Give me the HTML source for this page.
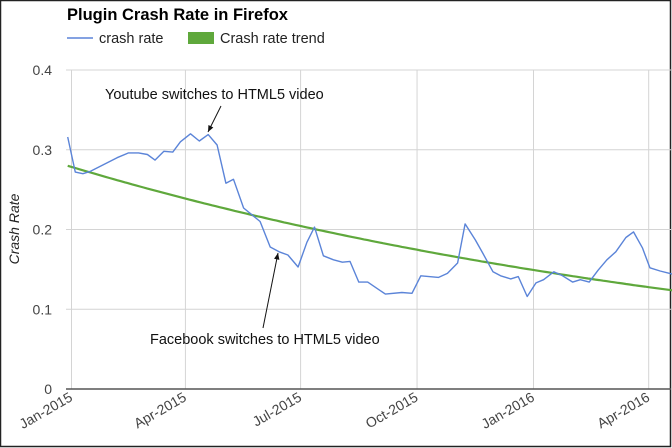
<!DOCTYPE html>
<html><head><meta charset="utf-8"><style>
body{margin:0;background:#fff}
svg{display:block;font-family:"Liberation Sans",Arial,sans-serif}
</style></head><body>
<svg id="chart" width="672" height="448" viewBox="0 0 672 448">
<rect x="0.5" y="0.5" width="670" height="446" fill="#fff" stroke="#222" stroke-width="1.5"/>
<text x="67" y="20" font-size="16.5" font-weight="bold" fill="#000">Plugin Crash Rate in Firefox</text>
<g>
<g><line x1="67" y1="38" x2="93" y2="38" stroke="#5b84d8" stroke-width="1.5"/><text x="99" y="43" font-size="14.5" fill="#222">crash rate</text></g>
<g><rect x="188" y="32" width="26" height="12" fill="#5fa83c"/><text x="220" y="43" font-size="14.5" fill="#222">Crash rate trend</text></g>
</g>
<text transform="translate(19,229) rotate(-90)" text-anchor="middle" font-size="14" font-style="italic" fill="#222">Crash Rate</text>
<g id="grid"></g><g id="marks"></g><g id="ann"></g>
</svg>
<script>
const yTicks=[0,0.1,0.2,0.3,0.4];
const yTickLabels=["0","0.1","0.2","0.3","0.4"];
const xTickDays=[0,90,181,273,365,456];
const xTickLabels=["Jan-2015","Apr-2015","Jul-2015","Oct-2015","Jan-2016","Apr-2016"];
const days=[-3,3,9,15,36,45,53,60,66,73,80,86,94,101,108,115,122,128,136,149,157,164,171,179,186,192,199,207,214,220,227,234,248,261,269,276,290,297,305,311,319,325,333,339,347,353,360,367,373,381,388,396,402,409,416,423,430,438,444,451,457,465,475];
const crashRate=[0.316,0.272,0.27,0.273,0.29,0.296,0.296,0.294,0.287,0.298,0.297,0.31,0.32,0.311,0.319,0.306,0.258,0.263,0.227,0.21,0.178,0.172,0.168,0.153,0.184,0.203,0.167,0.162,0.159,0.16,0.134,0.134,0.119,0.121,0.12,0.142,0.14,0.145,0.158,0.207,0.187,0.17,0.147,0.142,0.138,0.141,0.116,0.133,0.137,0.147,0.142,0.134,0.137,0.134,0.149,0.162,0.172,0.19,0.197,0.177,0.152,0.148,0.144];
const trendStart=[0.2785];
const trendDecayPerDay=[0.00171];
const X0=71.5,PXD=462/365,Y0=389,PXV=797.5;
const xs=d=>X0+d*PXD, ys=v=>Y0-v*PXV;
const NS="http://www.w3.org/2000/svg";
function mk(p,t,a){const e=document.createElementNS(NS,t);for(const k in a)e.setAttribute(k,a[k]);p.appendChild(e);return e;}
const grid=document.getElementById('grid'),marks=document.getElementById('marks'),ann=document.getElementById('ann');
yTicks.forEach((v,i)=>{
 if(v>0){const l=mk(grid,'line',{x1:66,x2:671,y1:ys(v),y2:ys(v),stroke:'#d4d4d4','stroke-width':1});
 
 }
 const t=mk(grid,'text',{x:52,y:ys(v)+5,'text-anchor':'end','font-size':14,fill:'#444'});t.textContent=yTickLabels[i];
 
 
});
xTickDays.forEach((d,i)=>{
 const l=mk(grid,'line',{x1:xs(d),x2:xs(d),y1:70,y2:389,stroke:'#d4d4d4','stroke-width':1});
 
 
 const t=mk(grid,'text',{transform:`translate(${xs(d)+2},${400}) rotate(-30)`,'text-anchor':'end','font-size':14,fill:'#444'});t.textContent=xTickLabels[i];
 
 
});
const ax=mk(grid,'line',{x1:66,x2:671,y1:389,y2:389,stroke:'#555','stroke-width':1.5});


let tp=[];for(let d=-3;d<=478;d+=3)tp.push(xs(d).toFixed(1)+','+ys(trendStart[0]*Math.exp(-trendDecayPerDay[0]*d)).toFixed(1));
const tr=mk(marks,'polyline',{points:tp.join(' '),fill:'none',stroke:'#5fa83c','stroke-width':2.2});


const cl=mk(marks,'polyline',{points:days.map((d,i)=>xs(d).toFixed(1)+','+ys(crashRate[i]).toFixed(1)).join(' '),fill:'none',stroke:'#5b84d8','stroke-width':1.4,'stroke-linejoin':'round'});


function note(txt,x,y,x1,y1,x2,y2,name){
 const g=mk(ann,'g',{});
 
 
 const t=mk(g,'text',{x:x,y:y,'font-size':14.5,fill:'#111'});t.textContent=txt;
 mk(g,'line',{x1:x1,y1:y1,x2:x2,y2:y2,stroke:'#111','stroke-width':1});
 const a=Math.atan2(y2-y1,x2-x1),L=7,w=0.4;
 mk(g,'polygon',{points:`${x2},${y2} ${x2-L*Math.cos(a-w)},${y2-L*Math.sin(a-w)} ${x2-L*Math.cos(a+w)},${y2-L*Math.sin(a+w)}`,fill:'#111'});
}
note('Youtube switches to HTML5 video',105,99,221,106,208,132,'youtube-annotation');
note('Facebook switches to HTML5 video',150,344,263,328,278,253,'facebook-annotation');
</script>
</body></html>
